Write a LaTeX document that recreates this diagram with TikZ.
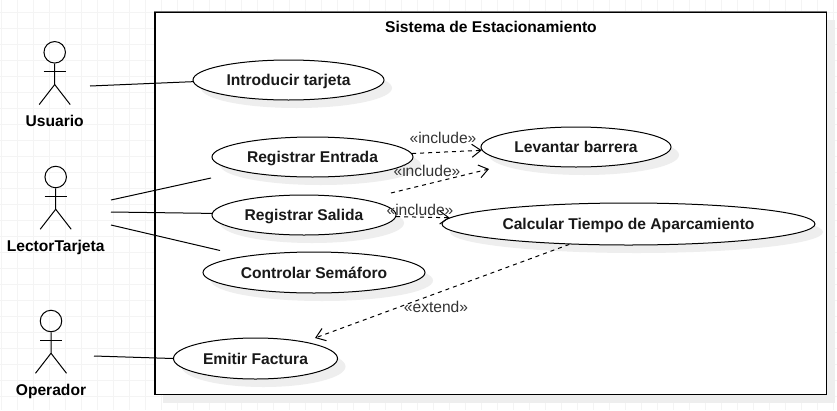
\documentclass[tikz,border=0pt]{standalone}
\usepackage{fontspec}
\setmainfont{Liberation Sans}
\usetikzlibrary{arrows.meta,positioning,shapes.geometric,shadows}
\definecolor{gridgray}{HTML}{F4F4F4}
\definecolor{shadowgray}{HTML}{EEEEEE}
\definecolor{labelgray}{HTML}{333333}
\newcommand{\actorbody}[1]{%
  \draw[limb] (#1.south) -- ++(0,21) coordinate (#1hip) -- ++(-15.5,20);
  \draw[limb] (#1hip) -- ++(15.5,20);
  \draw[limb] ([yshift=-8pt]#1.south) ++(-11,0) -- ++(22,0);
}

\begin{document}
\begin{tikzpicture}[x=1pt,y=-1pt,>={Straight Barb[length=9pt,width=13pt]}]
\tikzstyle{limb}=[line width=1pt]
\tikzstyle{head}=[circle, draw, line width=1pt, minimum size=21.5pt, inner sep=0pt]
\tikzstyle{actorname}=[font=\bfseries\fontsize{15.6}{17}\selectfont, inner sep=0pt, text height=11.2pt, text depth=0pt]
\tikzstyle{usecase}=[ellipse, draw, fill=white, line width=1pt, inner sep=0pt,
  font=\bfseries\fontsize{15.6}{17}\selectfont, text=black!90, text height=11.2pt, text depth=0pt,
  drop shadow={shadow xshift=8pt, shadow yshift=-8pt, fill=shadowgray, opacity=1}]
\tikzstyle{stereo}=[font=\fontsize{15.6}{17}\selectfont, text=labelgray, inner sep=0pt]
\tikzstyle{assoc}=[line width=1pt]
\tikzstyle{dep}=[->, dashed, line width=1pt, dash pattern=on 4pt off 4pt]
\useasboundingbox (0,0) rectangle (837,410);
\foreach \gx in {0,...,52} \draw[gridgray, line width=0.8pt] (1.5+16*\gx,0) -- (1.5+16*\gx,410);
\foreach \gy in {0,...,25} \draw[gridgray, line width=0.8pt] (0,12.5+16*\gy-16) -- (837,12.5+16*\gy-16);

% system boundary
\node[draw, fill=white, line width=1.2pt, minimum width=671.5pt, minimum height=382.5pt, inner sep=0pt,
  drop shadow={shadow xshift=8pt, shadow yshift=-8pt, fill=shadowgray, opacity=1}] (sistema) at (490.75,203.25) {};
\draw[black!55, line width=1.6pt] (sistema.north west) -- (sistema.north east);
\node[actorname] (titulo) at (491,27) {Sistema de Estacionamiento};

% actors
\node[head] (usuario) at (54.7,52.3) {};
\node[head] (lector) at (55.7,177) {};
\node[head] (operador) at (51,321) {};
\actorbody{usuario}
\actorbody{lector}
\actorbody{operador}
\node[actorname, below=51.5pt of usuario] (usuarioname) {Usuario};
\node[actorname, below=51.5pt of lector] (lectorname) {LectorTarjeta};
\node[actorname, below=51.5pt of operador] (operadorname) {Operador};

% use cases
\node[usecase, minimum width=191pt, minimum height=40pt] (introducir) at (288.5,80) {Introducir tarjeta};
\node[usecase, minimum width=201pt, minimum height=40pt] (entrada) at (312.5,157) {Registrar Entrada};
\node[usecase, minimum width=190pt, minimum height=40pt] (levantar) at (576,147) {Levantar barrera};
\node[usecase, minimum width=184pt, minimum height=40pt] (salida) at (304,215) {Registrar Salida};
\node[usecase, minimum width=373pt, minimum height=42pt] (calcular) at (628.5,224) {Calcular Tiempo de Aparcamiento};
\node[usecase, minimum width=222pt, minimum height=41pt] (semaforo) at (314,272.5) {Controlar Semáforo};
\node[usecase, minimum width=164pt, minimum height=41pt] (emitir) at (255.5,358.5) {Emitir Factura};

% free ends
\coordinate (usuarioP) at (90,86);
\coordinate (lectorA) at (111,200);
\coordinate (lectorB) at (111,212);
\coordinate (lectorC) at (111,225);
\coordinate (operadorP) at (94,356);
\coordinate (entradaP) at (211,178);
\coordinate (semaforoP) at (220,250.5);
\coordinate (salidaP) at (391,193);
\coordinate (levantarP) at (489,169);
\coordinate (emitirP) at (315,338);

\draw[assoc] (usuarioP) -- (introducir.181);
\draw[assoc] (lectorA) -- (entradaP);
\draw[assoc] (lectorB) -- (salida.179);
\draw[assoc] (lectorC) -- (semaforoP);
\draw[assoc] (operadorP) -- (emitir.west);

\draw[dep] (entrada.2) -- (levantar.182);
\draw[dep] (salidaP) -- (levantarP);
\draw[dep] (salida.-1) -- (calcular.178);
\draw[dep] (calcular.199) -- (emitirP);

\node[stereo] (inc1) at (443,138) {«include»};
\node[stereo] (inc2) at (427,171) {«include»};
\node[stereo] (inc3) at (420,210) {«include»};
\node[stereo] (ext1) at (436,307) {«extend»};
\end{tikzpicture}
\end{document}
